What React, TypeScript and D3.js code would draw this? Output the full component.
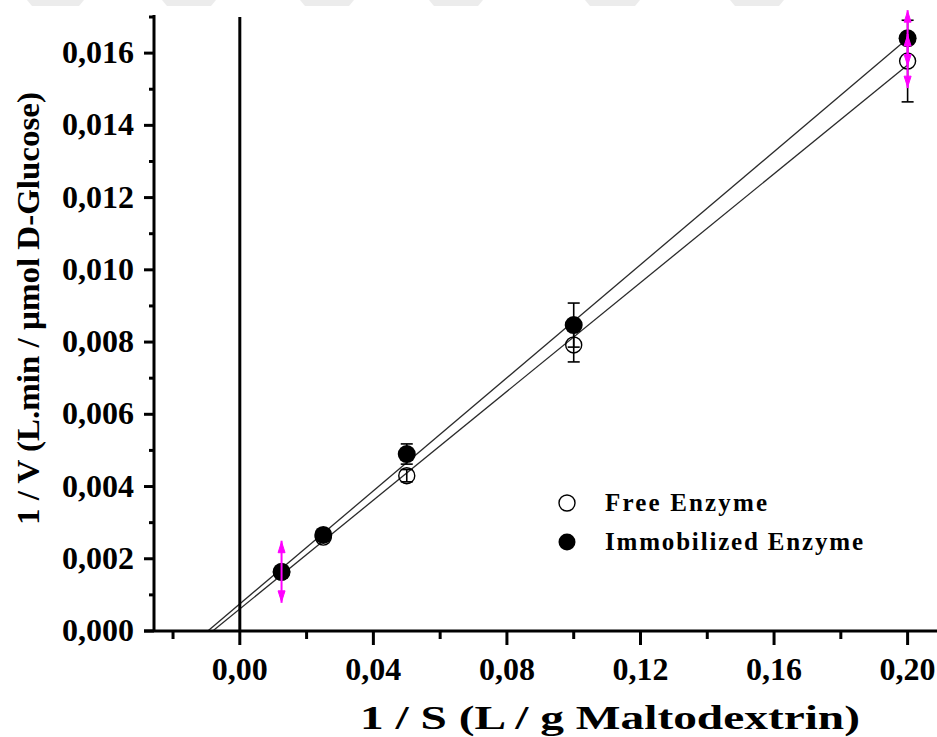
import React from "react";
import * as d3 from "d3";

// Lineweaver–Burk data: 1/S (L/g maltodextrin) vs 1/V (L.min/µmol D-glucose)
const invSubstrate = [0.0125, 0.025, 0.05, 0.1, 0.2];
const freeInvV = [0.00163, 0.0026, 0.0043, 0.00792, 0.01578];
const immobInvV = [0.00164, 0.00266, 0.0049, 0.00847, 0.01641];
// black error bars
const freeErr = [0, 0, 0.00017, 0.00047, 0.00113];
const immobErr = [0, 0, 0.00028, 0.00061, 0];
// highlighted (magenta) error bars
const freeErrHi = [0, 0, 0, 0, 0.00075];
const immobErrHi = [0.00086, 0, 0, 0, 0.00078];

const xTickValues = [0, 0.04, 0.08, 0.12, 0.16, 0.2];
const xMinorValues = [-0.02, 0.02, 0.06, 0.1, 0.14, 0.18];
const yTickValues = [0, 0.002, 0.004, 0.006, 0.008, 0.01, 0.012, 0.014, 0.016];
const yMinorValues = [0.001, 0.003, 0.005, 0.007, 0.009, 0.011, 0.013, 0.015, 0.017];

const legendLabels = ["Free Enzyme", "Immobilized Enzyme"];
const xTitle = "1 / S (L / g Maltodextrin)";
const yTitle = "1 / V (L.min / µmol D-Glucose)";

// faint header band segments (x start, x end)
const bandSegments = [
  [27, 84],
  [162, 216],
  [300, 354],
  [429, 483],
  [585, 640],
  [730, 784],
];

const W = 937;
const H = 737;
const FONT = "'Liberation Serif', 'Times New Roman', serif";

const fmt = (v: number, digits: number) => v.toFixed(digits).replace(".", ",");

function fit(xs: number[], ys: number[]) {
  const mx = d3.mean(xs) as number;
  const my = d3.mean(ys) as number;
  let sxy = 0;
  let sxx = 0;
  xs.forEach((x, i) => {
    sxy += (x - mx) * (ys[i] - my);
    sxx += (x - mx) * (x - mx);
  });
  const slope = sxy / sxx;
  return { slope, intercept: my - slope * mx };
}

export default function App() {
  const x = d3.scaleLinear().domain([-0.0257, 0.21]).range([154, 941]);
  const y = d3.scaleLinear().domain([0, 0.017]).range([631, 17]);

  const series = [
    { vals: freeInvV, err: freeErr, errHi: freeErrHi, filled: false },
    { vals: immobInvV, err: immobErr, errHi: immobErrHi, filled: true },
  ];

  const line = d3
    .line<[number, number]>()
    .x((d) => x(d[0]))
    .y((d) => y(d[1]));

  const fits = series.map((s) => {
    const f = fit(invSubstrate, s.vals);
    const x0 = -f.intercept / f.slope;
    const x1 = invSubstrate[invSubstrate.length - 1];
    return line([
      [x0, 0],
      [x1, f.intercept + f.slope * x1],
    ]) as string;
  });

  const magentaBar = (cx: number, v: number, e: number, key: string) => {
    const yt = y(v + e);
    const yb = y(v - e);
    return (
      <g key={key} fill="#ff00ff" stroke="#ff00ff">
        <line x1={cx} x2={cx} y1={yt} y2={yb} strokeWidth={2} />
        <path d={`M${cx},${yt + 1} L${cx - 3.5},${yt + 12} L${cx + 3.5},${yt + 12} Z`} strokeWidth={1} />
        <path d={`M${cx},${yb - 1} L${cx - 3.5},${yb - 12} L${cx + 3.5},${yb - 12} Z`} strokeWidth={1} />
      </g>
    );
  };

  return (
    <svg
      width={W}
      height={H}
      style={{ position: "absolute", left: 0, top: 0, background: "#fff" }}
      fontFamily={FONT}
    >
      <rect width={W} height={H} fill="#fff" />
      {bandSegments.map(([a, b], i) => (
        <path key={i} d={`M${a},0 L${b},0 L${b - 5},6 L${a + 5},6 Z`} fill="#ececec" />
      ))}

      {/* fitted lines */}
      {fits.map((d, i) => (
        <path key={i} d={d} fill="none" stroke="#2a2a2a" strokeWidth={1.3} />
      ))}

      {/* x = 0 reference */}
      <line x1={x(0)} x2={x(0)} y1={17} y2={631} stroke="#000" strokeWidth={3} />

      {/* black error bars */}
      {series.map((s, si) =>
        invSubstrate.map((sx, i) => {
          const e = s.err[i];
          if (!e) return null;
          const cx = x(sx);
          const yt = y(s.vals[i] + e);
          const yb = y(s.vals[i] - e);
          return (
            <g key={`e${si}-${i}`} stroke="#000" strokeWidth={1.6}>
              <line x1={cx} x2={cx} y1={yt} y2={yb} />
              <line x1={cx - 6} x2={cx + 6} y1={yt} y2={yt} />
              <line x1={cx - 6} x2={cx + 6} y1={yb} y2={yb} />
            </g>
          );
        })
      )}

      {/* markers */}
      {series.map((s, si) =>
        invSubstrate.map((sx, i) =>
          s.filled ? (
            <circle key={`m${si}-${i}`} cx={x(sx)} cy={y(s.vals[i])} r={9} fill="#000" />
          ) : (
            <circle
              key={`m${si}-${i}`}
              cx={x(sx)}
              cy={y(s.vals[i])}
              r={8}
              fill="none"
              stroke="#000"
              strokeWidth={1.4}
            />
          )
        )
      )}

      {/* highlighted error bars */}
      {series.map((s, si) =>
        invSubstrate.map((sx, i) =>
          s.errHi[i] ? magentaBar(x(sx), s.vals[i], s.errHi[i], `h${si}-${i}`) : null
        )
      )}

      {/* axes */}
      <line x1={144} x2={W} y1={631} y2={631} stroke="#000" strokeWidth={3} />
      <line x1={154} x2={154} y1={15} y2={632} stroke="#000" strokeWidth={3} />
      {xTickValues.map((v) => (
        <g key={`xt${v}`}>
          <line x1={x(v)} x2={x(v)} y1={631} y2={645} stroke="#000" strokeWidth={3} />
          <text x={x(v)} y={680} textAnchor="middle" fontSize={32} fontWeight="bold" fill="#000">
            {fmt(v, 2)}
          </text>
        </g>
      ))}
      {xMinorValues.map((v) => (
        <line key={`xm${v}`} x1={x(v)} x2={x(v)} y1={631} y2={639} stroke="#000" strokeWidth={3} />
      ))}
      {yTickValues.map((v) => (
        <g key={`yt${v}`}>
          <line x1={144} x2={154} y1={y(v)} y2={y(v)} stroke="#000" strokeWidth={3} />
          <text x={134} y={y(v) + 10} textAnchor="end" fontSize={32} fontWeight="bold" fill="#000">
            {fmt(v, 3)}
          </text>
        </g>
      ))}
      {yMinorValues.map((v) => (
        <line key={`ym${v}`} x1={149} x2={154} y1={y(v)} y2={y(v)} stroke="#000" strokeWidth={3} />
      ))}

      {/* axis titles */}
      <text
        x={360}
        y={729}
        fontSize={34}
        fontWeight="bold"
        textLength={500}
        lengthAdjust="spacingAndGlyphs"
        fill="#000"
      >
        {xTitle}
      </text>
      <text
        transform="translate(39,525) rotate(-90)"
        x={0}
        y={0}
        fontSize={31}
        fontWeight="bold"
        textLength={433}
        lengthAdjust="spacingAndGlyphs"
        fill="#000"
      >
        {yTitle}
      </text>

      {/* legend */}
      <circle cx={567} cy={503} r={8} fill="#fff" stroke="#000" strokeWidth={1.4} />
      <text
        x={605}
        y={511}
        fontSize={25}
        fontWeight="bold"
        textLength={162}
        lengthAdjust="spacing"
        fill="#000"
      >
        {legendLabels[0]}
      </text>
      <circle cx={567} cy={542} r={8.5} fill="#000" />
      <text
        x={605}
        y={550}
        fontSize={25}
        fontWeight="bold"
        textLength={258}
        lengthAdjust="spacing"
        fill="#000"
      >
        {legendLabels[1]}
      </text>
    </svg>
  );
}
